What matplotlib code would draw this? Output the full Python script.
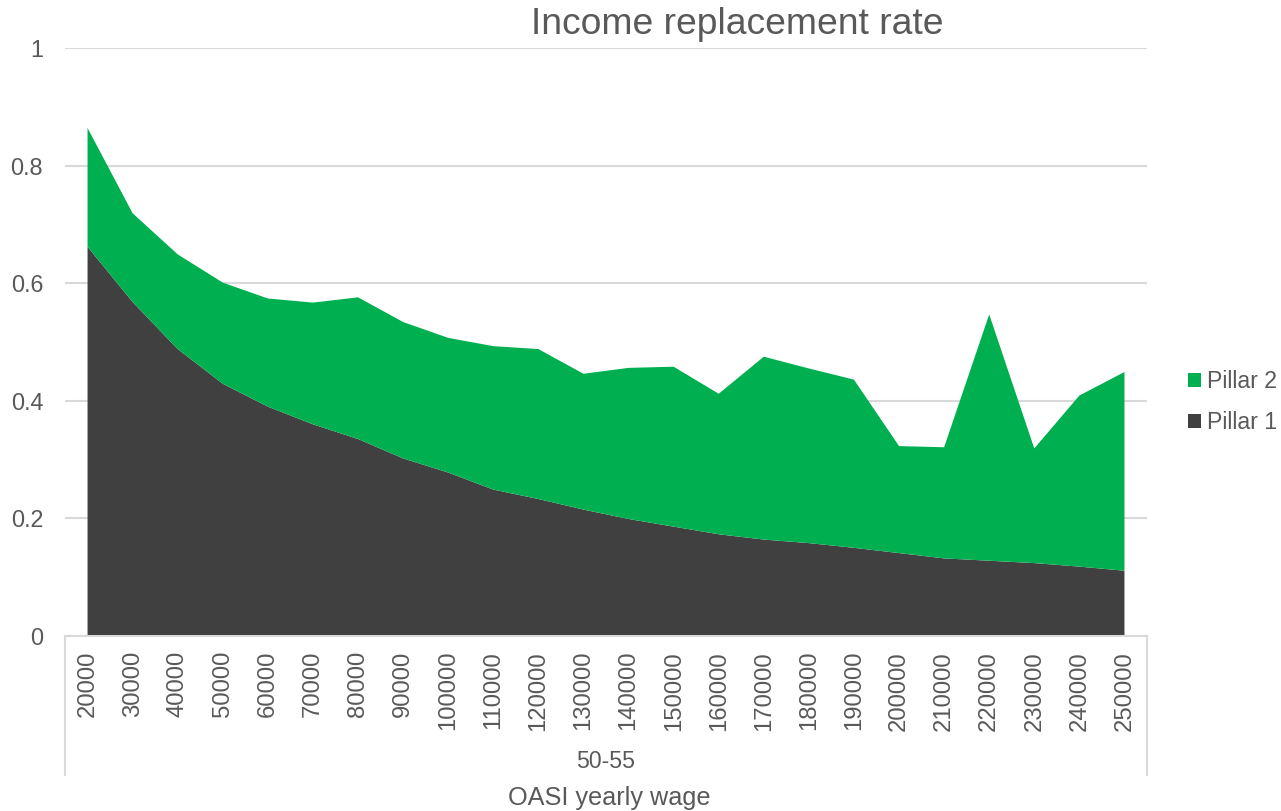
import numpy as np
import matplotlib
matplotlib.use("Agg")
import matplotlib.pyplot as plt

plt.rcParams['font.family'] = ['Liberation Sans', 'DejaVu Sans']

# Data
wages = [20000, 30000, 40000, 50000, 60000, 70000, 80000, 90000, 100000, 110000,
         120000, 130000, 140000, 150000, 160000, 170000, 180000, 190000, 200000,
         210000, 220000, 230000, 240000, 250000]
total = [0.864, 0.719, 0.649, 0.601, 0.574, 0.567, 0.576, 0.534, 0.507, 0.493,
         0.488, 0.446, 0.456, 0.458, 0.412, 0.475, 0.455, 0.436, 0.323,
         0.321, 0.547, 0.319, 0.409, 0.449]
pillar1 = [0.662, 0.568, 0.488, 0.429, 0.390, 0.360, 0.335, 0.302, 0.278, 0.249,
           0.233, 0.215, 0.199, 0.186, 0.173, 0.164, 0.158, 0.150, 0.141,
           0.132, 0.128, 0.124, 0.118, 0.111]
pillar2 = [t - p for t, p in zip(total, pillar1)]
group_label = "50-55"

text_col = "#595959"
grid_col = "#d9d9d9"

fig = plt.figure(figsize=(12.81, 8.11), dpi=100)
ax = fig.add_axes([65 / 1281, 1 - 636 / 811, (1147 - 65) / 1281, (636 - 48) / 811])

x = np.arange(len(wages))
ax.stackplot(x, pillar1, pillar2, colors=["#404040", "#00b050"],
             labels=["Pillar 1", "Pillar 2"], linewidth=0)

ax.set_xlim(-0.5, len(wages) - 0.5)
ax.set_ylim(0, 1)
ax.set_yticks([0, 0.2, 0.4, 0.6, 0.8, 1])
ax.set_yticklabels(["0", "0.2", "0.4", "0.6", "0.8", "1"])
ax.yaxis.grid(True, color=grid_col, linewidth=1.5)
ax.set_axisbelow(True)
ax.tick_params(axis='y', length=0, pad=15.8, labelsize=16.8, labelcolor=text_col)
ax.set_xticks(x)
ax.set_xticklabels([str(w) for w in wages], rotation=90)
ax.tick_params(axis='x', length=0, pad=10.8, labelsize=17.2, labelcolor=text_col)

for s in ["top", "right", "left"]:
    ax.spines[s].set_visible(False)
ax.spines["bottom"].set_color(grid_col)
ax.spines["bottom"].set_linewidth(1.5)

# grouped category axis box
depth = (775 - 636) / 588
for xv in [0, 1]:
    ax.plot([xv, xv], [0, -depth], transform=ax.transAxes, color=grid_col,
            linewidth=1.5, clip_on=False)
ax.text(0.5, -(762 - 636) / 588, group_label, transform=ax.transAxes,
        ha="center", va="center", fontsize=16.6, color=text_col)

fig.text(609 / 1281, 1 - 798 / 811, "OASI yearly wage", ha="center", va="center",
         fontsize=18.2, color=text_col)
fig.text(737 / 1281, 1 - 25 / 811, "Income replacement rate", ha="center",
         va="center", fontsize=26.8, color=text_col)

handles, labels = ax.get_legend_handles_labels()
leg = fig.legend(handles[::-1], labels[::-1], loc="center left",
                 bbox_to_anchor=(1188 / 1281, 1 - 402 / 811), frameon=False,
                 fontsize=16.7, handlelength=0.55, handleheight=0.55,
                 handletextpad=0.26, labelspacing=0.78, borderpad=0,
                 borderaxespad=0, labelcolor=text_col)

fig.savefig("out.png", dpi=100)
